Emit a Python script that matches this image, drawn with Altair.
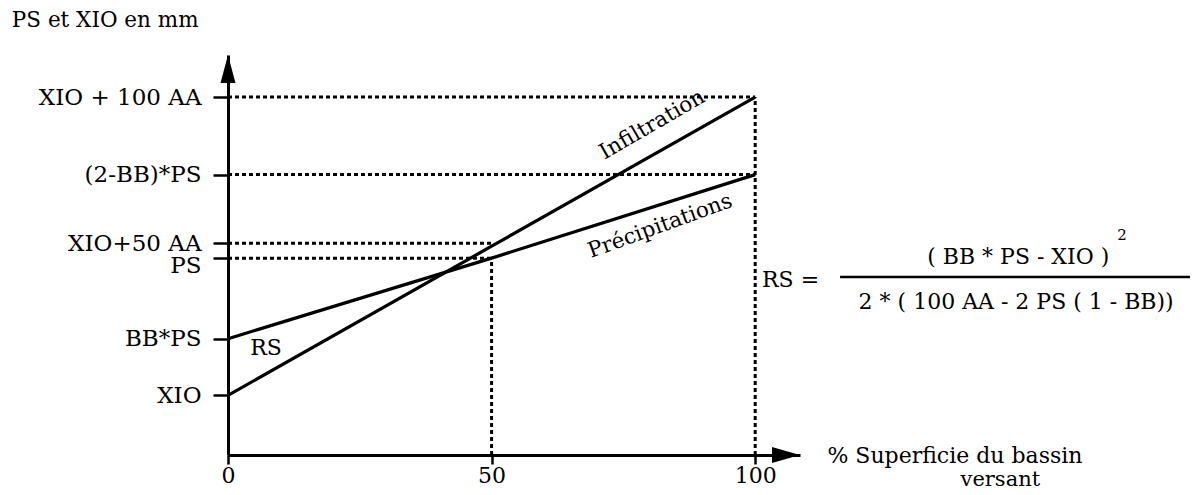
import altair as alt
import pandas as pd

FONT = "DejaVu Serif"

# ---- data ----
x_pct = [0, 50, 100]                       # % superficie du bassin versant
infiltration = [20, 70, 120]               # XIO -> XIO+50AA -> XIO+100AA
precipitations = [39, 66, 94]              # BB*PS -> PS -> (2-BB)*PS

tick_values = [20, 39, 66, 71, 94, 120]
tick_labels = ["XIO", "BB*PS", "PS", "XIO+50 AA", "(2-BB)*PS", "XIO + 100 AA"]

X_MAX = 108.5
Y_MAX = 134.1

# ---- tables ----
lines = pd.DataFrame(
    [{"x": xv, "y": yv, "serie": "Infiltration"} for xv, yv in zip(x_pct, infiltration)]
    + [{"x": xv, "y": yv, "serie": "Précipitations"} for xv, yv in zip(x_pct, precipitations)]
)

guides = pd.DataFrame([
    {"x": 0, "x2": 100, "y": tick_values[5], "y2": tick_values[5]},
    {"x": 0, "x2": 100, "y": tick_values[4], "y2": tick_values[4]},
    {"x": 0, "x2": 50, "y": tick_values[3], "y2": tick_values[3]},
    {"x": 0, "x2": 50, "y": tick_values[2], "y2": tick_values[2]},
    {"x": 50, "x2": 50, "y": 0, "y2": tick_values[2]},
    {"x": 100, "x2": 100, "y": 0, "y2": tick_values[5]},
])

arrows = pd.DataFrame([
    {"x": 0, "y": Y_MAX, "path": "M0,0L1.07,4L-1.07,4Z"},
    {"x": X_MAX, "y": 0, "path": "M0,0L-4,-1.15L-4,1.15Z"},
])

frac_bar = pd.DataFrame([{"x": 116.1, "x2": 184.5, "y": 59.7, "y2": 59.7}])

ann_left = pd.DataFrame([
    {"x": -41.0, "y": 145.6, "text": "PS et XIO en mm", "size": 21.5, "angle": 0},
    {"x": 101.3, "y": 58.7, "text": "RS =", "size": 22, "angle": 0},
    {"x": 113.7, "y": -0.4, "text": "% Superficie du bassin", "size": 22, "angle": 0},
])
ann_center = pd.DataFrame([
    {"x": 80.5, "y": 110.6, "text": "Infiltration", "size": 21.5, "angle": 330},
    {"x": 82.0, "y": 76.6, "text": "Précipitations", "size": 21.5, "angle": 340},
    {"x": 7.2, "y": 36.0, "text": "RS", "size": 22, "angle": 0},
    {"x": 149.9, "y": 66.4, "text": "( BB * PS - XIO )", "size": 22, "angle": 0},
    {"x": 169.6, "y": 73.8, "text": "2", "size": 15, "angle": 0},
    {"x": 149.5, "y": 51.3, "text": "2 * ( 100 AA - 2 PS ( 1 - BB))", "size": 22, "angle": 0},
    {"x": 146.5, "y": -8.5, "text": "versant", "size": 21, "angle": 0},
])

label_expr = " : ".join(
    f"datum.value == {v} ? '{t}'" for v, t in zip(tick_values, tick_labels)
) + " : ''"

xscale = alt.Scale(domain=[0, X_MAX], nice=False, zero=False)
yscale = alt.Scale(domain=[0, Y_MAX], nice=False, zero=False)

x_axis = alt.Axis(
    values=x_pct, format="d", title=None, grid=False,
    domainColor="black", domainWidth=3, tickColor="black", tickWidth=2.5,
    tickSize=9, labelFont=FONT, labelFontSize=22, labelColor="black",
    labelPadding=1, labelFlush=False, labelOverlap=False,
)
y_axis = alt.Axis(
    values=tick_values, labelExpr=label_expr, title=None, grid=False,
    domainColor="black", domainWidth=3, tickColor="black", tickWidth=2.5,
    tickSize=15, labelFont=FONT, labelFontSize=23, labelColor="black",
    labelPadding=12, labelOverlap=False, labelFlush=False,
    labelOffset={"condition": {"test": "datum.value == 66", "value": 7}, "value": 0},
)

line_layer = alt.Chart(lines).mark_line(color="black", strokeWidth=3.2).encode(
    x=alt.X("x:Q", scale=xscale, axis=x_axis),
    y=alt.Y("y:Q", scale=yscale, axis=y_axis),
    detail="serie:N",
)

guide_layer = alt.Chart(guides).mark_rule(
    color="black", strokeWidth=3, strokeDash=[4, 3]
).encode(x="x:Q", x2="x2:Q", y="y:Q", y2="y2:Q")

bar_layer = alt.Chart(frac_bar).mark_rule(color="black", strokeWidth=2.5).encode(
    x="x:Q", x2="x2:Q", y="y:Q", y2="y2:Q"
)

arrow_layer = alt.Chart(arrows).mark_point(
    filled=True, color="black", size=196, opacity=1, clip=False
).encode(x="x:Q", y="y:Q", shape=alt.Shape("path:N", scale=None, legend=None))

text_left = alt.Chart(ann_left).mark_text(
    align="left", baseline="middle", font=FONT, color="black", clip=False
).encode(
    x="x:Q", y="y:Q", text="text:N",
    size=alt.Size("size:Q", scale=None, legend=None),
    angle=alt.Angle("angle:Q", scale=None),
)

text_center = alt.Chart(ann_center).mark_text(
    align="center", baseline="middle", font=FONT, color="black", clip=False
).encode(
    x="x:Q", y="y:Q", text="text:N",
    size=alt.Size("size:Q", scale=None, legend=None),
    angle=alt.Angle("angle:Q", scale=None),
)

chart = alt.layer(
    guide_layer, line_layer, bar_layer, arrow_layer, text_left, text_center
).properties(
    width=572, height=400,
    padding={"left": 220, "top": 47, "right": 390, "bottom": 32},
    autosize=alt.AutoSizeParams(type="none"),
).configure(background="white").configure_view(stroke=None)

chart.save("out.html", embed_options={"renderer": "svg", "actions": False})
